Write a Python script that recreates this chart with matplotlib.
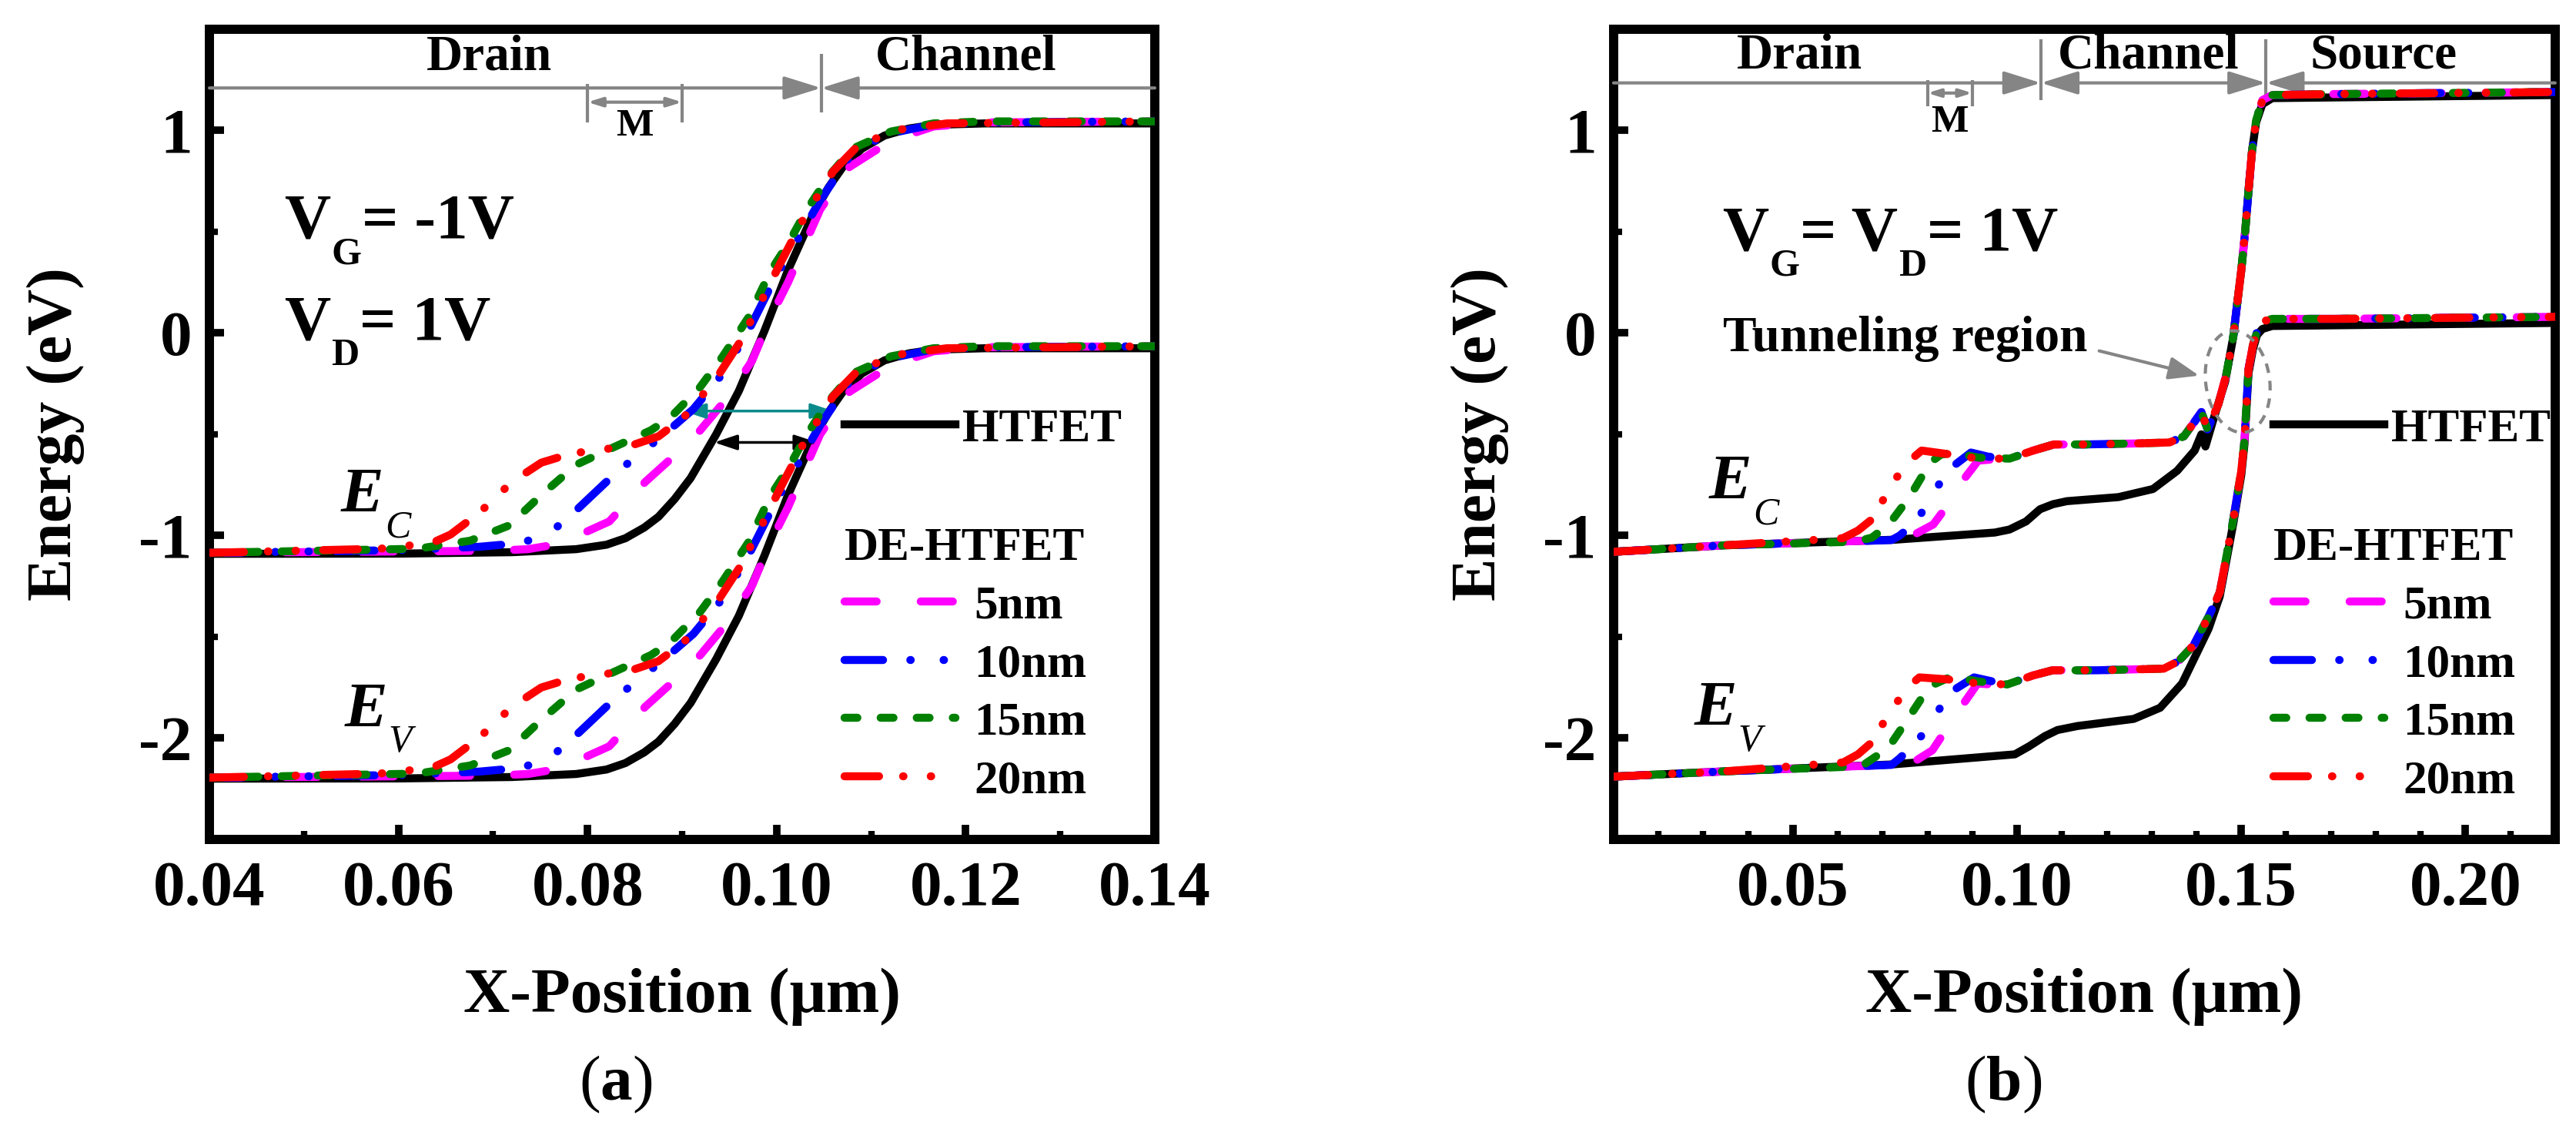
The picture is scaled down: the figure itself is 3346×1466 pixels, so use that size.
"""
Band diagrams (Ec / Ev) of HTFET vs DE-HTFET for several M lengths.
(a) off-state VG=-1V, VD=1V   (b) on-state VG=VD=1V
"""

import matplotlib
matplotlib.use("Agg")
import matplotlib.pyplot as plt
from matplotlib.patches import Ellipse
from matplotlib.transforms import ScaledTranslation
from matplotlib.ticker import MultipleLocator, FormatStrFormatter

plt.rcParams["font.family"] = ["Liberation Serif", "DejaVu Serif"]
plt.rcParams["font.weight"] = "bold"
plt.rcParams["axes.unicode_minus"] = False
plt.rcParams["mathtext.fontset"] = "custom"
plt.rcParams["mathtext.rm"] = "Liberation Serif"
plt.rcParams["mathtext.bf"] = "Liberation Serif:bold"

# ── Data: panel (a), VG = -1 V, VD = 1 V ─────────────────────────────────────
A_HT_X = [0.040, 0.060, 0.072, 0.0788, 0.082, 0.084, 0.086, 0.0875, 0.0892, 0.0909, 0.0936,
          0.096, 0.0987, 0.1012, 0.1039, 0.1055, 0.107, 0.109, 0.1114, 0.114, 0.1166, 0.122, 0.140]
A_HT_EC = [-1.090, -1.089, -1.082, -1.067, -1.045, -1.013, -0.960, -0.907, -0.820, -0.716, -0.500,
           -0.286, 0.010, 0.310, 0.590, 0.720, 0.820, 0.910, 0.975, 1.010, 1.028, 1.035, 1.035]
A_HT_EV = [-2.200, -2.199, -2.192, -2.177, -2.155, -2.123, -2.070, -2.017, -1.930, -1.826, -1.610,
           -1.396, -1.100, -0.800, -0.520, -0.390, -0.290, -0.200, -0.135, -0.100, -0.082, -0.075, -0.075]

A_5_X = [0.040, 0.070, 0.0737, 0.0765, 0.0785, 0.0823, 0.0861, 0.0912, 0.0946, 0.0974, 0.0991,
         0.1012, 0.1046, 0.1077, 0.1121, 0.1166, 0.122, 0.140]
A_5_EC = [-1.085, -1.075, -1.067, -1.045, -1.010, -0.930, -0.735, -0.520, -0.330, -0.137, 0.054,
          0.250, 0.610, 0.820, 0.950, 1.020, 1.040, 1.045]
A_5_EV = [-2.195, -2.185, -2.177, -2.155, -2.120, -2.040, -1.845, -1.630, -1.440, -1.247, -1.056,
          -0.860, -0.500, -0.290, -0.160, -0.090, -0.070, -0.065]

A_10_X = [0.040, 0.060, 0.0686, 0.0731, 0.0762, 0.0788, 0.083, 0.0858, 0.0881, 0.0912, 0.0943,
          0.097, 0.0998, 0.1022, 0.1046, 0.1077, 0.1114, 0.1166, 0.122, 0.140]
A_10_EC = [-1.085, -1.072, -1.055, -1.036, -0.980, -0.875, -0.690, -0.586, -0.500, -0.375, -0.200,
           0.010, 0.270, 0.460, 0.655, 0.870, 0.980, 1.030, 1.040, 1.045]
A_10_EV = [-2.195, -2.182, -2.165, -2.146, -2.090, -1.985, -1.800, -1.696, -1.610, -1.485, -1.310,
           -1.100, -0.840, -0.650, -0.455, -0.240, -0.130, -0.080, -0.070, -0.065]

A_15_X = [0.040, 0.062, 0.0676, 0.0717, 0.0751, 0.0788, 0.0827, 0.0867, 0.0888, 0.0919, 0.0943,
          0.097, 0.0994, 0.1012, 0.1032, 0.1056, 0.108, 0.1121, 0.1166, 0.122, 0.140]
A_15_EC = [-1.085, -1.065, -1.025, -0.950, -0.800, -0.650, -0.565, -0.480, -0.415, -0.267, -0.115,
           0.076, 0.310, 0.440, 0.610, 0.780, 0.910, 0.995, 1.035, 1.045, 1.045]
A_15_EV = [-2.195, -2.175, -2.135, -2.060, -1.910, -1.760, -1.675, -1.590, -1.525, -1.377, -1.225,
           -1.034, -0.800, -0.670, -0.500, -0.330, -0.200, -0.115, -0.075, -0.065, -0.065]

A_20_X = [0.040, 0.058, 0.0635, 0.0655, 0.0686, 0.072, 0.0751, 0.0779, 0.081, 0.084, 0.0875,
          0.0902, 0.0936, 0.096, 0.0984, 0.1005, 0.1029, 0.106, 0.1087, 0.1131, 0.118, 0.140]
A_20_EC = [-1.085, -1.065, -1.037, -0.995, -0.885, -0.735, -0.640, -0.600, -0.575, -0.565, -0.510,
           -0.415, -0.225, -0.053, 0.160, 0.355, 0.570, 0.800, 0.930, 1.005, 1.035, 1.045]
A_20_EV = [-2.195, -2.175, -2.147, -2.105, -1.995, -1.845, -1.750, -1.710, -1.685, -1.675, -1.620,
           -1.525, -1.335, -1.163, -0.950, -0.755, -0.540, -0.310, -0.180, -0.105, -0.075, -0.065]

# ── Data: panel (b), VG = VD = 1 V ───────────────────────────────────────────
B_HT_EC_X = [0.010, 0.0347, 0.0729, 0.095, 0.0983, 0.102, 0.1051, 0.108, 0.1111, 0.1226, 0.1303,
             0.1357, 0.1396, 0.1411, 0.1420, 0.1440, 0.1464, 0.1482, 0.1490, 0.1500, 0.1509,
             0.1516, 0.1524, 0.1533, 0.1547, 0.1569, 0.220]
B_HT_EC = [-1.080, -1.048, -1.020, -0.985, -0.970, -0.930, -0.870, -0.845, -0.830, -0.810, -0.770,
           -0.680, -0.580, -0.500, -0.560, -0.410, -0.240, -0.020, 0.130, 0.310, 0.510,
           0.700, 0.900, 1.040, 1.130, 1.160, 1.175]
B_HT_EV_X = [0.010, 0.0347, 0.072, 0.0995, 0.1027, 0.1062, 0.109, 0.1135, 0.126, 0.1319, 0.1368,
             0.1403, 0.1427, 0.1452, 0.1483, 0.1500, 0.1507, 0.1516, 0.1526, 0.1535, 0.1547,
             0.1569, 0.220]
B_HT_EV = [-2.190, -2.164, -2.130, -2.080, -2.040, -1.990, -1.960, -1.940, -1.905, -1.850, -1.730,
           -1.570, -1.460, -1.300, -0.930, -0.700, -0.550, -0.200, -0.080, -0.010, 0.020,
           0.035, 0.050]

# shared channel/source part of the DE-HTFET curves
B_EC_TAIL_X = [0.0983, 0.1036, 0.1082, 0.115, 0.1266, 0.134, 0.1372, 0.1395, 0.1411, 0.1425,
               0.1449, 0.1466, 0.1482, 0.149, 0.150, 0.1509, 0.1516, 0.1524, 0.1533, 0.1547,
               0.1569, 0.1706, 0.220]
B_EC_TAIL = [-0.620, -0.580, -0.550, -0.550, -0.545, -0.540, -0.510, -0.440, -0.390, -0.476,
             -0.350, -0.210, -0.020, 0.130, 0.310, 0.510, 0.700, 0.900, 1.050, 1.150,
             1.175, 1.180, 1.190]
B_EV_TAIL_X = [0.0978, 0.1036, 0.1079, 0.1178, 0.1327, 0.136, 0.1394, 0.1427, 0.1452, 0.1483,
               0.150, 0.1507, 0.1516, 0.1526, 0.1535, 0.1547, 0.1569, 0.1706, 0.220]
B_EV_TAIL = [-1.735, -1.690, -1.665, -1.665, -1.657, -1.620, -1.540, -1.400, -1.280, -0.910,
             -0.680, -0.530, -0.180, -0.060, 0.006, 0.057, 0.070, 0.070, 0.080]

# drain part (where the M region differs)
B_5_EC_X = [0.010, 0.0347, 0.0738, 0.0775, 0.0813, 0.0845, 0.0875, 0.0913, 0.094]
B_5_EC = [-1.080, -1.048, -1.020, -0.990, -0.945, -0.850, -0.740, -0.630, -0.625]
B_10_EC_X = [0.010, 0.0347, 0.072, 0.0738, 0.0775, 0.0806, 0.0844, 0.0897, 0.0935]
B_10_EC = [-1.080, -1.048, -1.022, -1.000, -0.930, -0.820, -0.680, -0.590, -0.610]
B_15_EC_X = [0.010, 0.0347, 0.064, 0.0676, 0.0714, 0.076, 0.0806, 0.083, 0.086, 0.0913]
B_15_EC = [-1.080, -1.048, -1.030, -1.010, -0.945, -0.810, -0.640, -0.600, -0.590, -0.615]
B_20_EC_X = [0.010, 0.0347, 0.0611, 0.0645, 0.0676, 0.071, 0.0729, 0.0755, 0.0787, 0.0853, 0.0913]
B_20_EC = [-1.080, -1.048, -1.013, -0.975, -0.920, -0.790, -0.720, -0.640, -0.580, -0.600, -0.620]

B_5_EV_X = [0.010, 0.0347, 0.0738, 0.0775, 0.0811, 0.0874, 0.0912, 0.094]
B_5_EV = [-2.190, -2.164, -2.130, -2.110, -2.060, -1.850, -1.730, -1.735]
B_10_EV_X = [0.010, 0.0347, 0.072, 0.0738, 0.0775, 0.0808, 0.0846, 0.0904, 0.0945]
B_10_EV = [-2.190, -2.164, -2.132, -2.100, -2.020, -1.930, -1.780, -1.700, -1.720]
B_15_EV_X = [0.010, 0.0347, 0.064, 0.0662, 0.0712, 0.0755, 0.0804, 0.0854, 0.0912]
B_15_EV = [-2.190, -2.164, -2.140, -2.125, -2.050, -1.910, -1.745, -1.695, -1.720]
B_20_EV_X = [0.010, 0.0347, 0.0612, 0.0645, 0.0671, 0.0712, 0.0733, 0.0755, 0.0782, 0.0846, 0.0912]
B_20_EV = [-2.190, -2.164, -2.120, -2.080, -2.030, -1.890, -1.820, -1.750, -1.700, -1.710, -1.730]

DE_LABELS = ["5nm", "10nm", "15nm", "20nm"]
X_TICKS_A = [0.04, 0.06, 0.08, 0.10, 0.12, 0.14]
X_TICKS_B = [0.05, 0.10, 0.15, 0.20]
Y_TICKS = [-2, -1, 0, 1]

# ── Styles ───────────────────────────────────────────────────────────────────
LW = 7.5
GRAY = "#858585"
TEAL = "#0a8a8a"
STYLES = [
    dict(color="#ff00ff", dashes=(4.0, 5.5)),
    dict(color="#0000ff", dashes=(4.8, 3.4, 0.05, 4.1, 0.05, 3.4)),
    dict(color="#008000", dashes=(1.6, 2.9)),
    dict(color="#ff0000", dashes=(4.3, 3.0, 0.05, 3.4, 0.05, 3.4)),
]

fig = plt.figure(figsize=(33.46, 14.66), dpi=100)
ax_a = fig.add_axes([0.0813, 0.2565, 0.367, 0.7176])
ax_b = fig.add_axes([0.6264, 0.2565, 0.3655, 0.7176])


def style_axes(ax, xlim, xticks, label_x):
    ax.set_xlim(*xlim)
    ax.set_ylim(-2.5, 1.5)
    ax.set_xticks(xticks)
    ax.set_yticks(Y_TICKS)
    ax.xaxis.set_minor_locator(MultipleLocator(0.01))
    ax.yaxis.set_minor_locator(MultipleLocator(0.5))
    ax.xaxis.set_major_formatter(FormatStrFormatter("%.2f"))
    ax.yaxis.set_major_formatter(FormatStrFormatter("%d"))
    for s in ax.spines.values():
        s.set_linewidth(8.6)
    ax.tick_params(which="major", direction="in", length=14, width=7, labelsize=60,
                   top=False, right=False)
    ax.tick_params(which="minor", direction="in", length=8, width=6, top=False, right=False)
    ax.tick_params(axis="y", pad=16)
    ax.tick_params(axis="x", pad=20)
    ax.set_xlabel("X-Position (μm)", fontsize=60, fontweight="bold")
    ax.set_ylabel("Energy (eV)", fontsize=60, fontweight="bold")
    ax.xaxis.set_label_coords(0.5, -0.158)
    ax.yaxis.set_label_coords(label_x, 0.5)


def draw_bands(ax, ht, de):
    h_ht, = ax.plot(ht[0], ht[1], color="black", lw=LW, zorder=2)
    ax.plot(ht[2], ht[3], color="black", lw=LW, zorder=2)
    handles = []
    for i, (cx, cy, vx, vy) in enumerate(de):
        st = STYLES[i]
        h, = ax.plot(cx, cy, lw=LW, color=st["color"], dashes=st["dashes"],
                     dash_capstyle="round", zorder=3 + i)
        ax.plot(vx, vy, lw=LW, color=st["color"], dashes=st["dashes"],
                dash_capstyle="round", zorder=3 + i)
        handles.append(h)
    return h_ht, handles


def add_legends(ax, h_ht, handles, x0):
    leg1 = ax.legend([h_ht], ["HTFET"], loc="center left", bbox_to_anchor=(x0, 0.506),
                     frameon=False, fontsize=44, handlelength=2.35, handletextpad=0.15,
                     borderpad=0, borderaxespad=0)
    ax.add_artist(leg1)
    ax.legend(handles, DE_LABELS, title="DE-HTFET", loc="upper left",
              bbox_to_anchor=(x0, 0.386), frameon=False, fontsize=44,
              title_fontproperties={"weight": "bold", "size": 44}, alignment="left",
              handlelength=2.35, handletextpad=0.4, labelspacing=0.32,
              borderpad=0, borderaxespad=0)


def sub_label(ax, x, y, parts, size=60, sub_size=36, italic=False):
    """Text with big, low subscripts: parts = [(text, is_subscript), ...]."""
    style = "italic" if italic else "normal"
    base = ax.text(x, y, parts[0][0], fontsize=size, va="baseline", style=style)
    prev = base
    for txt, is_sub in parts[1:]:
        if is_sub:
            prev = ax.annotate(txt, xy=(1, 0), xycoords=(prev, base), xytext=(1, -11),
                               textcoords="offset points", fontsize=sub_size,
                               va="baseline", ha="left", style=style,
                               fontweight="normal" if italic else "bold")
        else:
            prev = ax.annotate(txt, xy=(1, 0), xycoords=(prev, base), fontsize=size,
                               va="bottom", ha="left", style=style)


def gray_arrow(ax, tip, tail, style="-|>", scale=37):
    ax.annotate("", xy=tip, xytext=tail,
                arrowprops=dict(arrowstyle=style + ",head_length=0.8,head_width=0.25",
                                color=GRAY, lw=3, shrinkA=0, shrinkB=0, mutation_scale=scale))


# ── Panel (a) ────────────────────────────────────────────────────────────────
h_ht, handles = draw_bands(
    ax_a, (A_HT_X, A_HT_EC, A_HT_X, A_HT_EV),
    [(A_5_X, A_5_EC, A_5_X, A_5_EV), (A_10_X, A_10_EC, A_10_X, A_10_EV),
     (A_15_X, A_15_EC, A_15_X, A_15_EV), (A_20_X, A_20_EC, A_20_X, A_20_EV)])
style_axes(ax_a, (0.04, 0.14), X_TICKS_A, -0.132)
add_legends(ax_a, h_ht, handles, 0.672)

# region markers
gray_arrow(ax_a, (0.1047, 1.21), (0.04, 1.21))
gray_arrow(ax_a, (0.1047, 1.21), (0.14, 1.21))
ax_a.vlines(0.1047, 1.09, 1.38, color=GRAY, lw=3)
ax_a.vlines([0.08, 0.09], 1.04, 1.23, color=GRAY, lw=3)
gray_arrow(ax_a, (0.08, 1.14), (0.09, 1.14), style="<|-|>", scale=14)
ax_a.text(0.0696, 1.36, "Drain", fontsize=47, ha="center", va="center")
ax_a.text(0.120, 1.36, "Channel", fontsize=47, ha="center", va="center")
ax_a.text(0.085, 1.02, "M", fontsize=37, ha="center", va="center")

sub_label(ax_a, 0.0479, 0.47, [("V", False), ("G", True), ("= -1V", False)])
sub_label(ax_a, 0.0479, -0.03, [("V", False), ("D", True), ("= 1V", False)])
sub_label(ax_a, 0.0539, -0.88, [("E", False), ("C", True)], italic=True)
sub_label(ax_a, 0.0543, -1.94, [("E", False), ("V", True)], italic=True)

ax_a.annotate("", xy=(0.0901, -0.385), xytext=(0.106, -0.385),
              arrowprops=dict(arrowstyle="<|-|>,head_length=0.9,head_width=0.3", color=TEAL,
                              lw=2.5, shrinkA=0, shrinkB=0, mutation_scale=20))
ax_a.annotate("", xy=(0.0934, -0.54), xytext=(0.1043, -0.54),
              arrowprops=dict(arrowstyle="<|-|>,head_length=0.9,head_width=0.3", color="black",
                              lw=2.5, shrinkA=0, shrinkB=0, mutation_scale=20))

# ── Panel (b) ────────────────────────────────────────────────────────────────
h_ht, handles = draw_bands(
    ax_b, (B_HT_EC_X, B_HT_EC, B_HT_EV_X, B_HT_EV),
    [(B_5_EC_X + B_EC_TAIL_X, B_5_EC + B_EC_TAIL, B_5_EV_X + B_EV_TAIL_X, B_5_EV + B_EV_TAIL),
     (B_10_EC_X + B_EC_TAIL_X, B_10_EC + B_EC_TAIL, B_10_EV_X + B_EV_TAIL_X, B_10_EV + B_EV_TAIL),
     (B_15_EC_X + B_EC_TAIL_X, B_15_EC + B_EC_TAIL, B_15_EV_X + B_EV_TAIL_X, B_15_EV + B_EV_TAIL),
     (B_20_EC_X + B_EC_TAIL_X, B_20_EC + B_EC_TAIL, B_20_EV_X + B_EV_TAIL_X, B_20_EV + B_EV_TAIL)])
style_axes(ax_b, (0.01, 0.22), X_TICKS_B, -0.111)
add_legends(ax_b, h_ht, handles, 0.701)

gray_arrow(ax_b, (0.1053, 1.235), (0.01, 1.235))
gray_arrow(ax_b, (0.1053, 1.235), (0.1555, 1.235), style="<|-|>")
gray_arrow(ax_b, (0.1555, 1.235), (0.22, 1.235))
ax_b.vlines([0.1053, 0.1555], 1.15, 1.45, color=GRAY, lw=3)
ax_b.vlines([0.08, 0.09], 1.12, 1.25, color=GRAY, lw=3)
gray_arrow(ax_b, (0.08, 1.185), (0.09, 1.185), style="<|-|>", scale=12)
ax_b.text(0.0515, 1.37, "Drain", fontsize=47, ha="center", va="center")
ax_b.text(0.1293, 1.37, "Channel", fontsize=47, ha="center", va="center")
ax_b.text(0.1817, 1.37, "Source", fontsize=47, ha="center", va="center")
ax_b.text(0.0849, 1.04, "M", fontsize=37, ha="center", va="center")

sub_label(ax_b, 0.0343, 0.41, [("V", False), ("G", True), ("= V", False), ("D", True),
                               ("= 1V", False)])
sub_label(ax_b, 0.0313, -0.815, [("E", False), ("C", True)], italic=True)
sub_label(ax_b, 0.028, -1.935, [("E", False), ("V", True)], italic=True)
ax_b.text(0.075, -0.09, "Tunneling region", fontsize=47, ha="center", va="baseline")
ax_b.annotate("", xy=(0.1406, -0.21), xytext=(0.1183, -0.088),
              arrowprops=dict(arrowstyle="-|>,head_length=0.8,head_width=0.3", color=GRAY,
                              lw=3, shrinkA=0, shrinkB=0, mutation_scale=30))
ell = Ellipse((0, 0), 0.83, 1.33, angle=8, fill=False, ec=GRAY, lw=3,
              ls=(0, (3, 2.5)), zorder=10,
              transform=fig.dpi_scale_trans + ScaledTranslation(0.1492, -0.24, ax_b.transData))
ax_b.add_patch(ell)

# sub-figure captions
fig.text(800 / 3346, 1 - 1408 / 1466, r"($\mathbf{a}$)", fontsize=60, fontweight="normal",
         ha="center", va="center")
fig.text(2602 / 3346, 1 - 1408 / 1466, r"($\mathbf{b}$)", fontsize=60, fontweight="normal",
         ha="center", va="center")

fig.savefig("out.png", dpi=100)
